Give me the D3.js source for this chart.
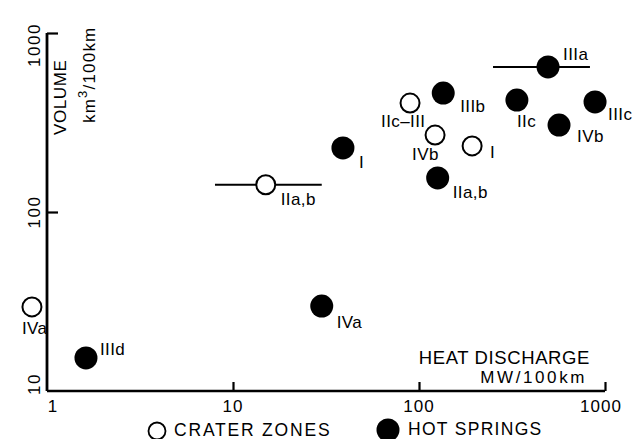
<!DOCTYPE html>
<html>
<head>
<meta charset="utf-8">
<script src="https://cdn.jsdelivr.net/npm/d3@7"></script>
<style>
  html, body { margin: 0; padding: 0; background: #fff; }
  svg { display: block; }
  text { font-family: "Liberation Sans", Arial, Helvetica, sans-serif; fill: #000; }
</style>
</head>
<body>
<svg id="chart" width="633" height="439"></svg>
<script>
// Axis ticks
const heatTicks = [1, 10, 100, 1000];
const volumeTicks = [10, 100, 1000];

// Crater zones (open circles)
const craterLabels = ["IIc\u2013III", "IVb", "I", "IIa,b", "IVa"];
const craterHeat = [89.5, 122, 193, 15, 0.83];
const craterVolume = [406, 269, 234, 142, 29.5];
const craterHeatLow = [null, null, null, 8, null];
const craterHeatHigh = [null, null, null, 30, null];

// Hot springs (filled circles)
const springLabels = ["IIIa", "IIIb", "IIc", "IIIc", "IVb", "I", "IIa,b", "IVa", "IIId"];
const springHeat = [494, 135, 336, 884, 566, 39, 126, 30, 1.62];
const springVolume = [646, 462, 422, 412, 306, 228, 155, 29.8, 15.3];
const springHeatLow = [250, null, null, null, null, null, null, null, null];
const springHeatHigh = [830, null, null, null, null, null, null, null, null];

// Label placement relative to each marker centre (dx, dy to the text baseline start)
const craterLabelOffsets = [[-29, 24], [-23, 25], [18, 12], [15, 20], [-10, 27]];
const springLabelOffsets = [[15, -7], [17, 19], [0, 27], [13, 18], [18, 17], [16, 20], [15, 20], [15, 22], [14, -3]];

const svg = d3.select("#chart");
const x = d3.scaleLog().domain([1, 1000]).range([47, 605]);
const y = d3.scaleLog().domain([10, 1000]).range([391, 33]);

// Axes: inward ticks, custom labels
const xAxis = svg.append("g").attr("transform", `translate(0,${y(10)})`)
  .call(d3.axisBottom(x).tickValues(heatTicks.slice(1)).tickSize(-9).tickFormat(""));
xAxis.select(".domain").attr("d", `M${x(1)},0H${x(1000)}`).attr("stroke-width", 2.5);
xAxis.selectAll(".tick line").attr("stroke-width", 2.2);

const yAxis = svg.append("g").attr("transform", `translate(${x(1)},0)`)
  .call(d3.axisLeft(y).tickValues(volumeTicks.slice(1)).tickSize(-11).tickFormat(""));
yAxis.select(".domain").attr("d", `M0,${y(10)}V${y(1000)}`).attr("stroke-width", 2.8);
yAxis.selectAll(".tick line").attr("stroke-width", 2.2);

// X tick labels
svg.selectAll(".xlab").data(heatTicks).join("text")
  .attr("class", "xlab")
  .attr("x", d => x(d) + (d === 1 ? 6 : d === 1000 ? -4 : 0))
  .attr("y", 412)
  .attr("text-anchor", "middle")
  .attr("font-size", 17)
  .attr("letter-spacing", 1)
  .text(d => d);

// Y tick labels (rotated)
const yLabelShift = { 10: -7, 100: 0, 1000: 12 };
svg.selectAll(".ylab").data(volumeTicks).join("text")
  .attr("class", "ylab")
  .attr("transform", d => `translate(40,${y(d) + yLabelShift[d]}) rotate(-90)`)
  .attr("text-anchor", "middle")
  .attr("font-size", 17)
  .attr("letter-spacing", 1.5)
  .text(d => d);

// Axis titles
svg.append("text")
  .attr("transform", "translate(66,135) rotate(-90)")
  .attr("font-size", 17).attr("letter-spacing", 0.6)
  .text("VOLUME");
const ytitle2 = svg.append("text")
  .attr("transform", "translate(95,123) rotate(-90)")
  .attr("font-size", 17).attr("letter-spacing", 1.2);
ytitle2.append("tspan").text("km");
ytitle2.append("tspan").attr("dy", -8).attr("font-size", 13).text("3");
ytitle2.append("tspan").attr("dy", 8).text("/100km");

svg.append("text").attr("x", 590).attr("y", 364)
  .attr("text-anchor", "end").attr("font-size", 18.5).attr("letter-spacing", 0.6)
  .text("HEAT DISCHARGE");
svg.append("text").attr("x", 587).attr("y", 383)
  .attr("text-anchor", "end").attr("font-size", 17).attr("letter-spacing", 2.6)
  .text("MW/100km");

// Build point records
function records(labels, heat, vol, lo, hi, offs) {
  return labels.map((l, i) => ({ label: l, heat: heat[i], vol: vol[i], lo: lo[i], hi: hi[i], off: offs[i] }));
}
const craters = records(craterLabels, craterHeat, craterVolume, craterHeatLow, craterHeatHigh, craterLabelOffsets);
const springs = records(springLabels, springHeat, springVolume, springHeatLow, springHeatHigh, springLabelOffsets);

// Range bars
const ranges = craters.concat(springs).filter(d => d.lo != null);
svg.selectAll(".range").data(ranges).join("line")
  .attr("class", "range")
  .attr("x1", d => x(d.lo)).attr("x2", d => x(d.hi))
  .attr("y1", d => y(d.vol)).attr("y2", d => y(d.vol))
  .attr("stroke", "#000").attr("stroke-width", 2);

// Markers
svg.selectAll(".crater").data(craters).join("circle")
  .attr("class", "crater")
  .attr("cx", d => x(d.heat)).attr("cy", d => y(d.vol)).attr("r", 9.5)
  .attr("fill", "#fff").attr("stroke", "#000").attr("stroke-width", 2);
svg.selectAll(".spring").data(springs).join("circle")
  .attr("class", "spring")
  .attr("cx", d => x(d.heat)).attr("cy", d => y(d.vol)).attr("r", 11.5)
  .attr("fill", "#000");

// Point labels
svg.selectAll(".plab").data(craters.concat(springs)).join("text")
  .attr("class", "plab")
  .attr("x", d => x(d.heat) + d.off[0])
  .attr("y", d => y(d.vol) + d.off[1])
  .attr("font-size", 17).attr("letter-spacing", 0.4)
  .text(d => d.label);

// Legend
svg.append("circle").attr("cx", 157).attr("cy", 431).attr("r", 8.5)
  .attr("fill", "#fff").attr("stroke", "#000").attr("stroke-width", 1.8);
svg.append("text").attr("x", 174).attr("y", 436)
  .attr("font-size", 17.5).attr("letter-spacing", 1.8).text("CRATER ZONES");
svg.append("circle").attr("cx", 388).attr("cy", 430).attr("r", 11.5).attr("fill", "#000");
svg.append("text").attr("x", 408).attr("y", 435)
  .attr("font-size", 17.5).attr("letter-spacing", 1.3).text("HOT SPRINGS");
</script>
</body>
</html>
